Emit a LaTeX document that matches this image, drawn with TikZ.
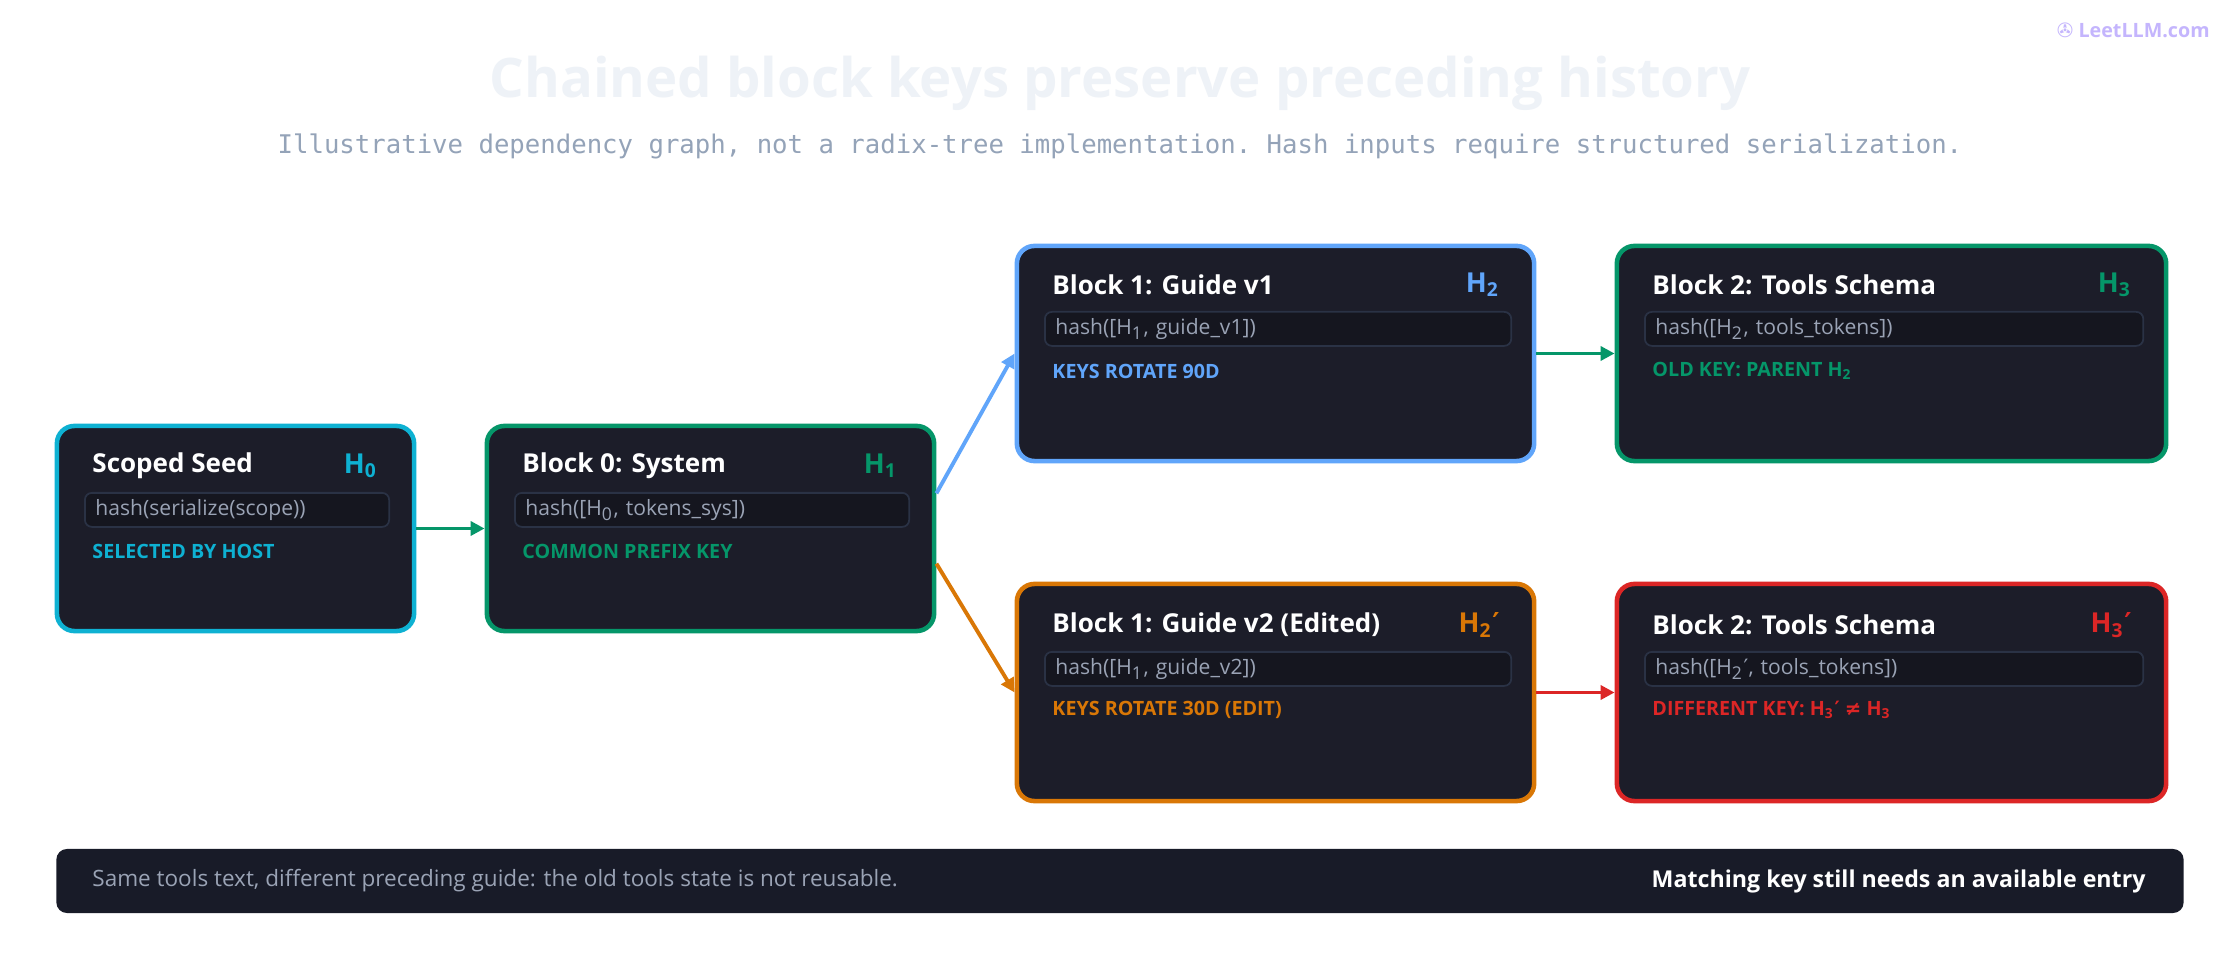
\documentclass[tikz,border=0pt]{standalone}
\usepackage{fontspec}
\setmainfont{Open Sans}
\setmonofont{DejaVu Sans Mono}
\newfontfamily\symf{DejaVu Sans}
\usetikzlibrary{positioning,arrows.meta}

\definecolor{cardbg}{HTML}{1C1D29}
\definecolor{hashbg}{HTML}{15161F}
\definecolor{hashline}{HTML}{2A3245}
\definecolor{hashtext}{HTML}{9AA3B5}
\definecolor{ccyan}{HTML}{0EB1D2}
\definecolor{cgreen}{HTML}{059669}
\definecolor{cblue}{HTML}{60A5FA}
\definecolor{corange}{HTML}{D97706}
\definecolor{cred}{HTML}{DC2626}
\definecolor{titlegray}{HTML}{EEF2F7}
\definecolor{subgray}{HTML}{94A3B8}
\definecolor{footbg}{HTML}{181B28}
\definecolor{logo}{HTML}{C4B5FD}

\tikzset{
  card/.style={rectangle, rounded corners=5pt, fill=cardbg, draw=#1, line width=1.3pt},
  cardtitle/.style={anchor=west, text=white, font=\fontsize{7.4}{9}\selectfont\bfseries},
  cardkey/.style={anchor=east, text=#1, font=\fontsize{7.8}{9}\selectfont\bfseries},
  hashbox/.style={rectangle, rounded corners=2pt, fill=hashbg, draw=hashline, line width=0.5pt,
    anchor=north west, minimum height=0.34cm, text=hashtext, font=\fontsize{6}{7}\selectfont,
    inner xsep=3pt, inner ysep=0pt, text width=#1, align=left},
  cardnote/.style={anchor=west, text=#1, font=\fontsize{5.6}{7}\selectfont\bfseries},
  link/.style={draw=#1, line width=1.1pt, -{Triangle[length=4pt,width=4pt]}},
}
\newcommand{\sub}[1]{\textsubscript{#1}}
\newcommand{\prm}{{\symf ′}}

\begin{document}
\begin{tikzpicture}[x=0.01cm, y=-0.01cm]
        \useasboundingbox[fill=white] (0,0) rectangle (2240,980);
        % Header
        \node (title) [text=titlegray, font=\fontsize{15.5}{18}\selectfont\bfseries] at (1120, 83) {Chained block keys preserve preceding history};
        \node (subtitle) [text=subgray, font=\fontsize{7.3}{9}\selectfont\ttfamily] at (1120, 146) {Illustrative dependency graph, not a radix-tree implementation. Hash inputs require structured serialization.};
        \node (brand) [text=logo, font=\fontsize{5.6}{7}\selectfont\bfseries, anchor=east] at (2222, 30) {{\symf ✇} LeetLLM.com};
        % Cards
        \node (seed) [card=ccyan, minimum width=3.57cm, minimum height=2.05cm] at (235.5, 528.5) {};
        \node (block0) [card=cgreen, minimum width=4.47cm, minimum height=2.05cm] at (710.5, 528.5) {};
        \node (guide1) [card=cblue, minimum width=5.17cm, minimum height=2.15cm] at (1275.5, 353.5) {};
        \node (tools1) [card=cgreen, minimum width=5.49cm, minimum height=2.15cm] at (1891.5, 353.5) {};
        \node (guide2) [card=corange, minimum width=5.17cm, minimum height=2.17cm] at (1275.5, 692.5) {};
        \node (tools2) [card=cred, minimum width=5.49cm, minimum height=2.17cm] at (1891.5, 692.5) {};
        % Card contents
        \node (seed-title) [cardtitle] at (80, 466) {Scoped Seed};
        \node (seed-key) [cardkey=ccyan] at (390, 466) {H\sub{0}};
        \node (seed-hash) [hashbox=2.83cm] at (84, 492) {hash(serialize(scope))};
        \node (seed-note) [cardnote=ccyan] at (80, 551) {SELECTED BY HOST};
        \node (block0-title) [cardtitle] at (510, 466) {Block 0: System};
        \node (block0-key) [cardkey=cgreen] at (910, 466) {H\sub{1}};
        \node (block0-hash) [hashbox=3.73cm] at (514, 492) {hash([H\sub{0}, tokens\_sys])};
        \node (block0-note) [cardnote=cgreen] at (510, 551) {COMMON PREFIX KEY};
        \node (guide1-title) [cardtitle] at (1040, 285) {Block 1: Guide v1};
        \node (guide1-key) [cardkey=cblue] at (1512, 285) {H\sub{2}};
        \node (guide1-hash) [hashbox=4.45cm] at (1044, 311) {hash([H\sub{1}, guide\_v1])};
        \node (guide1-note) [cardnote=cblue] at (1040, 371) {KEYS ROTATE 90D};
        \node (tools1-title) [cardtitle] at (1640, 285) {Block 2: Tools Schema};
        \node (tools1-key) [cardkey=cgreen] at (2144, 285) {H\sub{3}};
        \node (tools1-hash) [hashbox=4.77cm] at (1644, 311) {hash([H\sub{2}, tools\_tokens])};
        \node (tools1-note) [cardnote=cgreen] at (1640, 371) {OLD KEY: PARENT H\sub{2}};
        \node (guide2-title) [cardtitle] at (1040, 625) {Block 1: Guide v2 (Edited)};
        \node (guide2-key) [cardkey=corange] at (1512, 625) {H\sub{2}\prm};
        \node (guide2-hash) [hashbox=4.45cm] at (1044, 651) {hash([H\sub{1}, guide\_v2])};
        \node (guide2-note) [cardnote=corange] at (1040, 710) {KEYS ROTATE 30D (EDIT)};
        \node (tools2-title) [cardtitle] at (1640, 625) {Block 2: Tools Schema};
        \node (tools2-key) [cardkey=cred] at (2144, 625) {H\sub{3}\prm};
        \node (tools2-hash) [hashbox=4.77cm] at (1644, 651) {hash([H\sub{2}\prm, tools\_tokens])};
        \node (tools2-note) [cardnote=cred] at (1640, 710) {DIFFERENT KEY: H\sub{3}\prm{} {\symf ≠} H\sub{3}};
        % Footer
        \node (footer) [rectangle, rounded corners=3pt, fill=footbg, minimum width=21.26cm, minimum height=0.64cm] at (1120, 881) {};
        \node (footer-left) [anchor=west, text=hashtext, font=\fontsize{6.4}{8}\selectfont] at (80, 881) {Same tools text, different preceding guide: the old tools state is not reusable.};
        \node (footer-right) [anchor=east, text=white, font=\fontsize{6.6}{8}\selectfont\bfseries] at (2158, 881) {Matching key still needs an available entry};
        % Arrows
        \draw[link=cgreen] (seed) -- (block0);
        \draw[link=cblue] ([yshift=10pt]block0.east) -- (guide1.west);
        \draw[link=corange] ([yshift=-10pt]block0.east) -- (guide2.west);
        \draw[link=cgreen] (guide1) -- (tools1);
        \draw[link=cred] (guide2) -- (tools2);
      \end{tikzpicture}
\end{document}
